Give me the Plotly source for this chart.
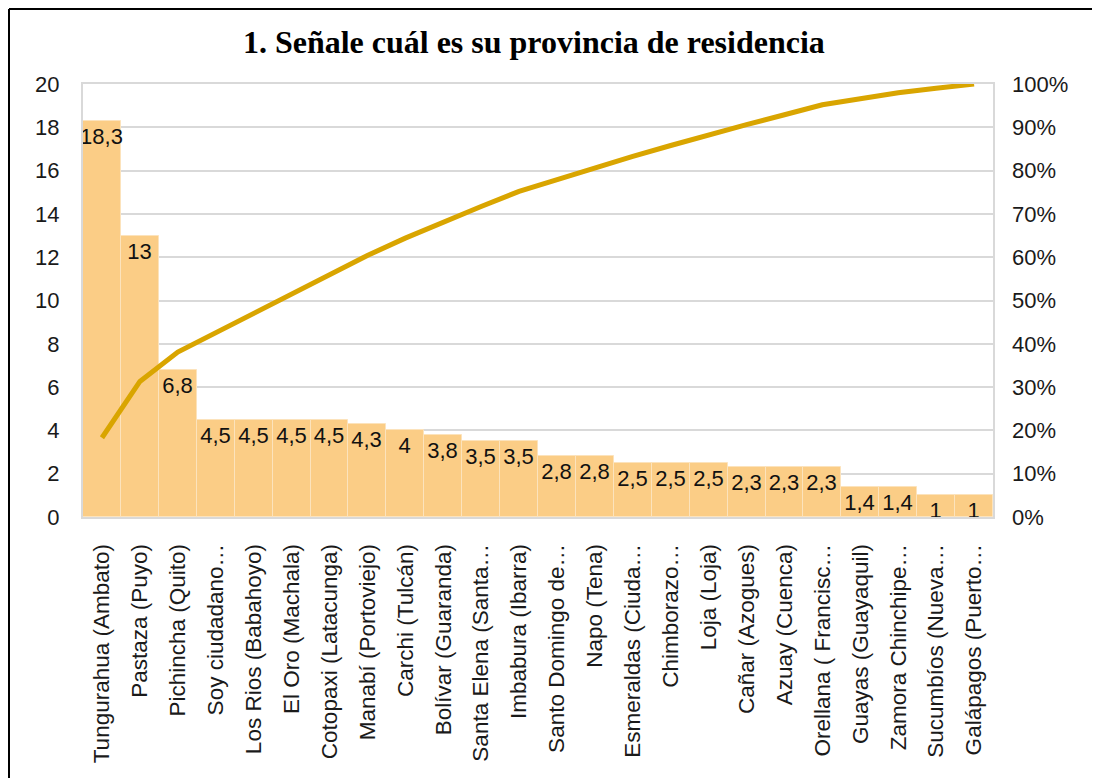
import plotly.graph_objects as go
import numpy as np

categories = [
    "Tungurahua (Ambato)", "Pastaza (Puyo)", "Pichincha (Quito)", "Soy ciudadano…",
    "Los Rios (Babahoyo)", "El Oro (Machala)", "Cotopaxi (Latacunga)", "Manabí (Portoviejo)",
    "Carchi (Tulcán)", "Bolívar (Guaranda)", "Santa Elena (Santa…", "Imbabura (Ibarra)",
    "Santo Domingo de…", "Napo (Tena)", "Esmeraldas (Ciuda…", "Chimborazo…",
    "Loja (Loja)", "Cañar (Azogues)", "Azuay (Cuenca)", "Orellana ( Francisc…",
    "Guayas (Guayaquil)", "Zamora Chinchipe…", "Sucumbíos (Nueva…", "Galápagos (Puerto…",
]
values = [18.3, 13, 6.8, 4.5, 4.5, 4.5, 4.5, 4.3, 4, 3.8, 3.5, 3.5,
          2.8, 2.8, 2.5, 2.5, 2.5, 2.3, 2.3, 2.3, 1.4, 1.4, 1, 1]
value_labels = [str(v).replace(".", ",") for v in values]
cumulative_pct = list(np.cumsum(values) / sum(values) * 100)

left_ticks = list(range(0, 21, 2))
right_ticks = list(range(0, 101, 10))
right_tick_labels = [f"{t}%" for t in right_ticks]

FONT = "Liberation Sans, Arial, sans-serif"
TICK_COLOR = "#1a1a1a"

# figure is offset by the page's 8px body margin
W, H = 1100, 778
L, T, PW, PH = 75, 76, 910, 433

fig = go.Figure()
fig.add_trace(go.Bar(
    x=categories, y=values, text=value_labels,
    textposition="inside", insidetextanchor="end", textangle=0,
    constraintext="none",
    textfont=dict(family=FONT, size=22, color="#111111"),
    marker=dict(color="#FBCD86", line=dict(color="#FCE3BC", width=1)),
    showlegend=False, hoverinfo="x+y",
))
fig.add_trace(go.Scatter(
    x=categories, y=cumulative_pct, yaxis="y2", mode="lines",
    line=dict(color="#D9A500", width=5),
    showlegend=False,
))

fig.update_layout(
    width=W, height=H,
    paper_bgcolor="white", plot_bgcolor="white",
    margin=dict(l=L, r=W - L - PW, t=T, b=H - T - PH),
    bargap=0,
    title=dict(
        text="<b>1. Señale cuál es su provincia de residencia</b>",
        x=(553 - 8) / W, xanchor="center", y=1 - 34 / H, yanchor="middle", xref="paper",
        font=dict(family="Liberation Serif, Times New Roman, serif", size=32, color="#000000"),
    ),
    xaxis=dict(
        tickangle=-90, tickfont=dict(family=FONT, size=22.5, color=TICK_COLOR),
        showline=True, linecolor="#D9D9D9", linewidth=2, mirror=True,
        showgrid=False, ticks="", ticklabelstandoff=16,
    ),
    yaxis=dict(
        range=[0, 20], tickvals=left_ticks,
        tickfont=dict(family=FONT, size=22, color=TICK_COLOR),
        showgrid=True, gridcolor="#D9D9D9", gridwidth=2,
        showline=True, linecolor="#D9D9D9", linewidth=2, mirror=True,
        zeroline=False, ticks="", ticklabelstandoff=17,
    ),
    yaxis2=dict(
        range=[0, 100], tickvals=right_ticks, ticktext=right_tick_labels,
        overlaying="y", side="right",
        tickfont=dict(family=FONT, size=22, color=TICK_COLOR),
        showgrid=False, zeroline=False, showline=False, ticks="", ticklabelstandoff=18,
    ),
    shapes=[
        dict(type="line", xref="paper", yref="paper",
             x0=(1 - L) / PW, x1=(W - L) / PW,
             y0=1 + (T - 1) / PH, y1=1 + (T - 1) / PH,
             line=dict(color="#000000", width=2)),
        dict(type="line", xref="paper", yref="paper",
             x0=(1 - L) / PW, x1=(1 - L) / PW,
             y0=1 + (T - 1) / PH, y1=-(H - T - PH) / PH,
             line=dict(color="#000000", width=2)),
    ],
)

fig.write_html("out.html")
